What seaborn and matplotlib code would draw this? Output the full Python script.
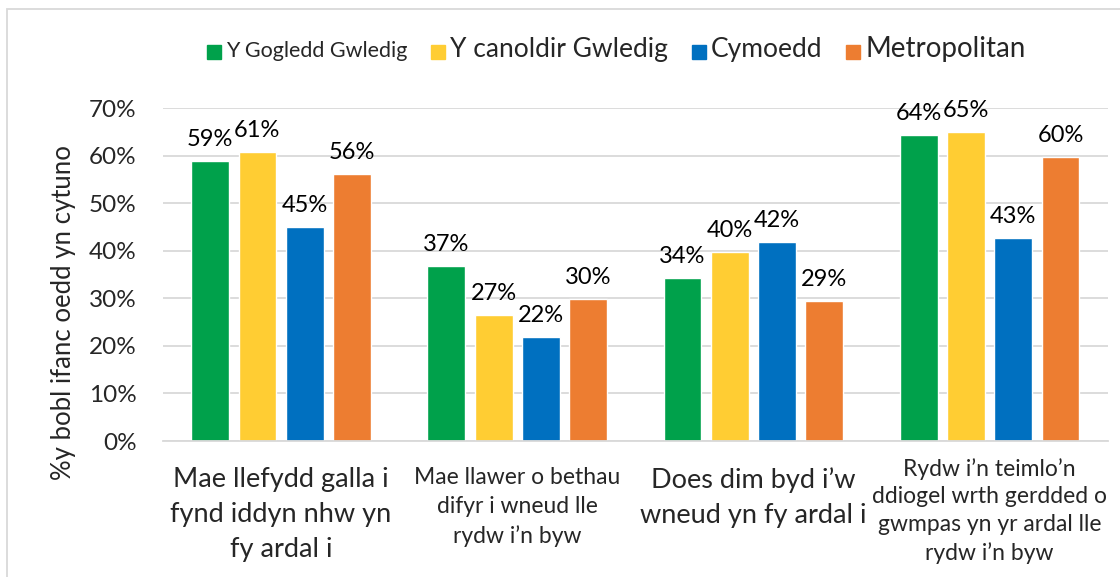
import matplotlib
matplotlib.use("Agg")
import matplotlib.pyplot as plt
import matplotlib.transforms as mtransforms
import numpy as np
import pandas as pd
import seaborn as sns
from matplotlib.lines import Line2D
from matplotlib.ticker import PercentFormatter

categories = [
    "Mae llefydd galla i\nfynd iddyn nhw yn\nfy ardal i",
    "Mae llawer o bethau\ndifyr i wneud lle\nrydw i\u2019n byw",
    "Does dim byd i\u2019w\nwneud yn fy ardal i",
    "Rydw i\u2019n teimlo\u2019n\nddiogel wrth gerdded o\ngwmpas yn yr ardal lle\nrydw i\u2019n byw",
]
series = ["Y Gogledd Gwledig", "Y canoldir Gwledig", "Cymoedd", "Metropolitan"]
gogledd = [58.8, 36.7, 34.2, 64.4]
canoldir = [60.8, 26.5, 39.8, 65.0]
cymoedd = [44.9, 21.9, 41.9, 42.6]
metro = [56.1, 29.9, 29.4, 59.6]
labels = {
    "Y Gogledd Gwledig": ["59%", "37%", "34%", "64%"],
    "Y canoldir Gwledig": ["61%", "27%", "40%", "65%"],
    "Cymoedd": ["45%", "22%", "42%", "43%"],
    "Metropolitan": ["56%", "30%", "29%", "60%"],
}
colors = ["#00A14B", "#FFCD33", "#0070C0", "#ED7D31"]

df = pd.DataFrame({
    "category": categories * 4,
    "series": np.repeat(series, 4),
    "value": gogledd + canoldir + cymoedd + metro,
})

sns.set_theme(style="white")
plt.rcParams["font.family"] = ["Lato", "DejaVu Sans"]

fig = plt.figure(figsize=(11.2, 5.77), dpi=100)
ax = fig.add_axes([0.1455, 0.2357, 0.8435, 0.5771])

sns.barplot(
    data=df, x="category", y="value", hue="series", order=categories,
    hue_order=series, palette=dict(zip(series, colors)), width=0.8, gap=0.2,
    saturation=1, ax=ax, legend=False,
)

for cont, s in zip(ax.containers, series):
    ax.bar_label(cont, labels=labels[s], padding=8, fontsize=17, color="#000000")

ax.set_ylim(0, 70)
ax.set_xlim(-0.5, 3.5)
ax.set_yticks(np.arange(0, 71, 10))
ax.yaxis.set_major_formatter(PercentFormatter(decimals=0))
ax.grid(axis="y", color="#D9D9D9", linewidth=1.3)
ax.set_axisbelow(True)
for sp in ["top", "right", "left"]:
    ax.spines[sp].set_visible(False)
ax.spines["bottom"].set_color("#D9D9D9")
ax.spines["bottom"].set_linewidth(1.3)
ax.tick_params(axis="both", length=0)
ax.tick_params(axis="y", labelsize=17.5, pad=19)
ax.tick_params(axis="x", pad=19)
ax.set_xlabel("")
ax.set_ylabel("%y bobl ifanc oedd yn cytuno", fontsize=18.5)
ax.yaxis.set_label_coords(-0.092, 0.385)

sizes = [19.5, 16.5, 19.5, 16.5]
spacing = [1.5, 1.45, 1.5, 1.4]
for i, t in enumerate(ax.get_xticklabels()):
    t.set_fontsize(sizes[i])
    t.set_linespacing(spacing[i])
    t.set_verticalalignment("top")
    if i == 3:
        # longest label sits a little higher, as in the original
        t.set_transform(t.get_transform() +
                        mtransforms.ScaledTranslation(0, 7 / 72, fig.dpi_scale_trans))

handles = [Line2D([], [], marker="s", linestyle="none", markersize=10.5,
                  markerfacecolor=c, markeredgecolor=c) for c in colors]
leg = fig.legend(handles, series, loc="center", bbox_to_anchor=(0.551, 0.915),
                 ncol=4, frameon=False, handletextpad=0.45, columnspacing=1.65,
                 handlelength=0.7)
for t, fs in zip(leg.get_texts(), [15.5, 19, 19, 20]):
    t.set_fontsize(fs)

# chart outline
fig.add_artist(plt.Rectangle((7 / 1120, -0.1), 1.2, 1 - 9 / 577 + 0.1,
                             transform=fig.transFigure, fill=False,
                             edgecolor="#D9D9D9", linewidth=1.3))

fig.savefig("out.png", dpi=100)
